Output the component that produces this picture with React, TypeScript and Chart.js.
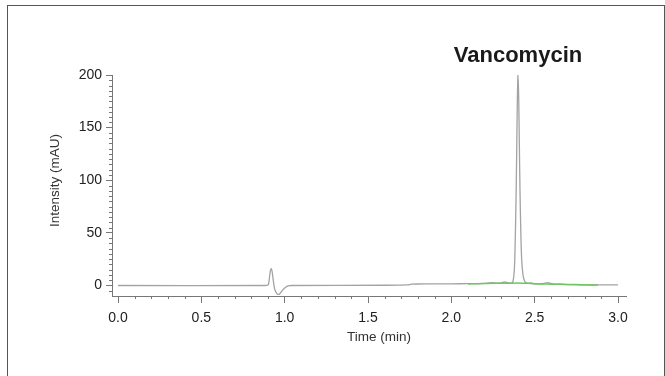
import React, { useEffect, useRef } from "react";
import { Chart, registerables } from "chart.js";

Chart.register(...registerables);

// Main (grey) chromatogram trace
const grayTime = [
  0.0, 0.88, 0.9, 0.905, 0.91, 0.915, 0.92, 0.925, 0.93, 0.935, 0.94, 0.95, 0.96, 0.97, 0.98, 0.99, 1.0, 1.01, 1.02, 1.04,
  1.6, 1.74, 1.76, 1.8, 1.9, 2.0, 2.1, 2.2, 2.24, 2.27, 2.3, 2.32, 2.34, 2.36,
  2.37, 2.378, 2.383, 2.388, 2.392, 2.396, 2.4, 2.404, 2.408, 2.412, 2.417, 2.422, 2.43, 2.44, 2.455,
  2.5, 2.55, 2.58, 2.6, 2.65, 2.7, 2.8, 3.0,
];
const grayIntensity = [
  0, 0, 0.5, 3, 9, 14.5, 16, 13, 7, 1, -3.5, -7, -8.5, -8, -6, -4, -2.5, -1.2, -0.4, 0,
  0.2, 0.5, 1.2, 1.4, 1.5, 1.6, 1.7, 2.0, 2.6, 2.3, 2.5, 3.5, 2.6, 2.3,
  4, 15, 40, 80, 125, 175, 200, 180, 135, 90, 50, 25, 10, 4, 2.2,
  1.5, 1.8, 2.8, 1.8, 1.0, 0.8, 0.5, 0.5,
];

// Second (green) trace
const greenTime = [2.1, 2.15, 2.2, 2.25, 2.3, 2.35, 2.4, 2.45, 2.48, 2.5, 2.55, 2.6, 2.65, 2.7, 2.75, 2.8, 2.85, 2.88];
const greenIntensity = [1.5, 1.6, 1.8, 2.2, 2.0, 2.2, 2.3, 2.0, 2.3, 1.6, 1.5, 1.2, 1.3, 1.0, 0.9, 0.6, 0.5, 0.4];

const xTickValues = [0, 0.5, 1.0, 1.5, 2.0, 2.5, 3.0];
const yTickValues = [0, 50, 100, 150, 200];

const peakLabel = "Vancomycin";
const xAxisTitle = "Time (min)";
const yAxisTitle = "Intensity (mAU)";

const FONT = '"Liberation Sans", Arial, Helvetica, sans-serif';

export default function App() {
  const canvasRef = useRef<HTMLCanvasElement>(null);

  useEffect(() => {
    const canvas = canvasRef.current;
    if (!canvas) return;

    const annotate = {
      id: "annotate",
      afterDraw(chart: any) {
        const { ctx, scales, chartArea } = chart;
        const x = scales.x;
        const y = scales.y;
        ctx.save();
        // minor ticks
        ctx.strokeStyle = "#777";
        ctx.lineWidth = 1;
        ctx.beginPath();
        for (let i = 0; i <= 30; i++) {
          if (i % 5 === 0) continue;
          const px = Math.round(x.getPixelForValue(i / 10)) + 0.5;
          ctx.moveTo(px, chartArea.bottom);
          ctx.lineTo(px, chartArea.bottom + 3);
        }
        for (let j = -1; j <= 40; j++) {
          if (j % 10 === 0) continue;
          const py = Math.round(y.getPixelForValue(j * 5)) + 0.5;
          ctx.moveTo(chartArea.left - 3, py);
          ctx.lineTo(chartArea.left, py);
        }
        ctx.stroke();

        // peak label
        ctx.fillStyle = "#1a1a1a";
        ctx.font = `bold 22px ${FONT}`;
        ctx.textAlign = "center";
        ctx.textBaseline = "alphabetic";
        ctx.fillText(peakLabel, x.getPixelForValue(2.4), 62);

        // axis titles
        ctx.fillStyle = "#333";
        ctx.font = `13.5px ${FONT}`;
        ctx.textBaseline = "middle";
        ctx.fillText(xAxisTitle, (chartArea.left + chartArea.right) / 2 + 10, chartArea.bottom + 41);
        ctx.translate(55.5, (chartArea.top + chartArea.bottom) / 2 - 5);
        ctx.rotate(-Math.PI / 2);
        ctx.fillText(yAxisTitle, 0, 0);
        ctx.restore();
      },
    };

    const chart = new Chart(canvas, {
      type: "line",
      data: {
        datasets: [
          {
            label: "Trace 2",
            data: greenTime.map((t, i) => ({ x: t, y: greenIntensity[i] })),
            borderColor: "#6cc860",
            borderWidth: 1.5,
            pointRadius: 0,
            tension: 0.3,
          },
          {
            label: "Trace 1",
            data: grayTime.map((t, i) => ({ x: t, y: grayIntensity[i] })),
            borderColor: "#a3a3a3",
            borderWidth: 1.3,
            pointRadius: 0,
            tension: 0.3,
          },
        ],
      },
      options: {
        responsive: false,
        animation: false,
        layout: { padding: { left: 0, top: 75, right: 39, bottom: 0 } },
        plugins: {
          legend: { display: false },
          tooltip: { enabled: false },
          title: { display: false },
        },
        scales: {
          x: {
            type: "linear",
            min: -0.036,
            max: 3.048,
            afterBuildTicks: (s: any) => {
              s.ticks = xTickValues.map((v) => ({ value: v }));
            },
            afterFit: (s: any) => {
              s.height = 80;
            },
            ticks: {
              callback: (v: any) => Number(v).toFixed(1),
              font: { family: FONT, size: 14 },
              color: "#222",
              padding: 7,
              maxRotation: 0,
              autoSkip: false,
            },
            grid: { drawOnChartArea: false, tickLength: 7, color: "#777", tickColor: "#777" },
            border: { color: "#777", width: 1 },
          },
          y: {
            min: -10,
            max: 200,
            afterBuildTicks: (s: any) => {
              s.ticks = yTickValues.map((v) => ({ value: v }));
            },
            afterFit: (s: any) => {
              s.width = 112;
            },
            ticks: {
              font: { family: FONT, size: 14 },
              color: "#222",
              padding: 4,
            },
            grid: { drawOnChartArea: false, tickLength: 6, color: "#777", tickColor: "#777" },
            border: { color: "#777", width: 1 },
          },
        },
      },
      plugins: [annotate],
    });

    return () => chart.destroy();
  }, []);

  return (
    <div style={{ position: "fixed", left: 0, top: 0, width: 665, height: 376, background: "#fff", overflow: "hidden" }}>
      <canvas ref={canvasRef} width={665} height={376} style={{ display: "block", position: "absolute", left: 0, top: 0 }} />
      <div
        style={{
          position: "absolute",
          left: 7,
          top: 5,
          width: 658,
          height: 400,
          border: "1px solid #555",
          boxSizing: "border-box",
          pointerEvents: "none",
        }}
      />
    </div>
  );
}
